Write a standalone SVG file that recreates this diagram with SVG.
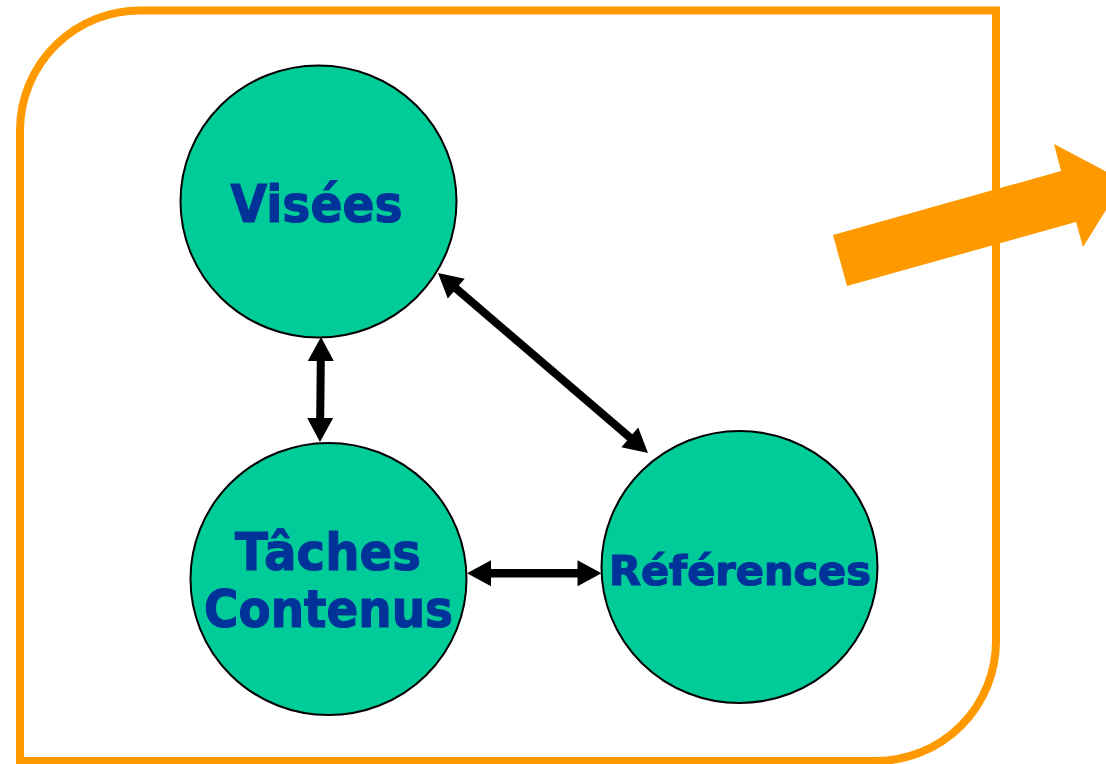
<svg xmlns="http://www.w3.org/2000/svg" width="1106" height="764" viewBox="0 0 1106 764">
<style>
.node{fill:#00CC99;stroke:#000;stroke-width:2}
.lbl{font-family:"DejaVu Sans",Verdana,sans-serif;font-weight:bold;fill:#003399;stroke:#003399;stroke-width:1.2;text-anchor:middle}
.con{fill:#000;stroke:none}
</style>
<rect width="1106" height="764" fill="#fff"/>
<path id="frame" d="M20,130 A120,120 0 0 1 140,10.5 L996,10.5 L996,641 A120,120 0 0 1 876,761 L20,761 Z" fill="none" stroke="#FF9900" stroke-width="8"/>
<polygon id="bigArrow" points="833,235 1061,171 1054,144 1124,181 1083,247 1076,222 847,286" fill="#FF9900"/>
<g id="connectors">
<polygon class="con" points="321,337 333.8,361.1 324.8,361 324.2,418 333.2,418.1 320,442 307.2,417.9 316.2,418 316.8,361 307.8,360.9"/>
<polygon class="con" points="438,273 464.68,278.75 458.82,285.58 632.38,434.34 638.24,427.51 648,453 621.32,447.25 627.18,440.42 453.62,291.66 447.76,298.49"/>
<polygon class="con" points="467,573.3 491,560.3 491,569 577.5,569 577.5,560.3 601.5,573.3 577.5,586.3 577.5,577.6 491,577.6 491,586.3"/>
</g>
<g id="visees">
<ellipse class="node" cx="318.5" cy="201.5" rx="138" ry="136"/>
<text class="lbl" x="316.5" y="222" font-size="52" textLength="172" lengthAdjust="spacingAndGlyphs">Visées</text>
</g>
<g id="taches">
<ellipse class="node" cx="328.5" cy="579" rx="138" ry="136"/>
<text class="lbl" x="328" y="570" font-size="52" textLength="186" lengthAdjust="spacingAndGlyphs">Tâches</text>
<text class="lbl" x="328.5" y="627" font-size="52" textLength="249" lengthAdjust="spacingAndGlyphs">Contenus</text>
</g>
<g id="references">
<ellipse class="node" cx="739.5" cy="567" rx="138" ry="136"/>
<text class="lbl" x="740" y="585" font-size="41" textLength="262" lengthAdjust="spacingAndGlyphs">Références</text>
</g>
</svg>
